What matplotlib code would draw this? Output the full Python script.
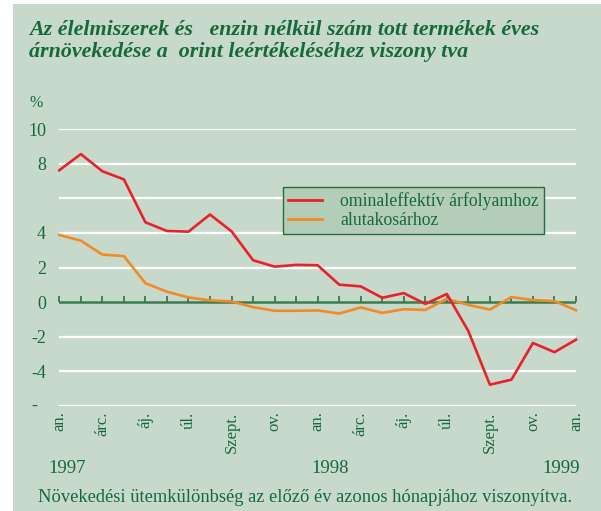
import matplotlib
matplotlib.use("Agg")
import matplotlib.pyplot as plt
from matplotlib.lines import Line2D
from matplotlib.markers import TICKUP

# ---- data ----
months = list(range(25))  # Jan 1997 .. Jan 1999
nominal_effective = [7.62, 8.55, 7.56, 7.09, 4.61, 4.11, 4.07, 5.06, 4.09, 2.42, 2.05, 2.15,
                     2.13, 1.01, 0.91, 0.25, 0.52, -0.10, 0.47, -1.67, -4.77, -4.48, -2.36, -2.89, -2.17]
currency_basket = [3.88, 3.55, 2.75, 2.66, 1.09, 0.60, 0.27, 0.10, 0.04, -0.29, -0.50, -0.50,
                   -0.48, -0.66, -0.31, -0.62, -0.41, -0.45, 0.19, -0.16, -0.43, 0.29, 0.12, 0.06, -0.47]
month_labels = ["an.", "árc.", "áj.", "úl.", "Szept.", "ov.", "an.", "árc.", "áj.", "úl.", "Szept.", "ov.", "an."]
month_label_pos = list(range(0, 25, 2))
year_labels = ["1997", "1998", "1999"]
year_pos = [0.35, 12.6, 23.3]
grid_values = [10, 8, 6, 4, 2, -2, -4, -6]
ytick_values = [10, 8, 4, 2, 0, -2, -4]
ytick_labels = ["10", "8", "4", "2", "0", "-2", "-4"]
series_names = ["ominaleffektív árfolyamhoz", "alutakosárhoz"]
title = "Az élelmiszerek és   enzin nélkül szám tott termékek éves\nárnövekedése a  orint leértékeléséhez viszony tva"
footer = "Növekedési ütemkülönbség az előző év azonos hónapjához viszonyítva."

# ---- style ----
BG = "#c7d9ca"
GREEN = "#17693c"
RED = "#e8222b"
ORANGE = "#f28a26"
SERIF = ["Liberation Serif", "DejaVu Serif"]
plt.rcParams["font.family"] = SERIF

W, H = 601, 511
fig = plt.figure(figsize=(W / 100, H / 100), dpi=100)
fig.patch.set_facecolor("white")
# green panel (white strip on the left)
fig.patches.append(plt.Rectangle((13 / W, 0), 1 - 13 / W, 1 - 4 / H, transform=fig.transFigure,
                                 facecolor=BG, edgecolor="none", zorder=-10))

left = 59.3 / W
right = 576 / W
top = 1 - 129 / H
bottom = 1 - 406 / H
ax = fig.add_axes([left, bottom, right - left, top - bottom])
ax.set_facecolor("none")
ax.set_xlim(0, 24)
ax.set_ylim(-6, 10)
for s in ax.spines.values():
    s.set_visible(False)

for g in grid_values:
    ax.axhline(g, color="white", lw=1.6, zorder=1)

# zero line with upward ticks
ax.axhline(0, color="#3a7d52", lw=1.8, zorder=2)
ax.plot(months, [0] * len(months), linestyle="none", marker=TICKUP, markersize=4,
        markeredgewidth=1.2, color="#2f7048", zorder=2, clip_on=False)

ax.plot(months, nominal_effective, color=RED, lw=1.9, zorder=4, clip_on=False)
ax.plot(months, currency_basket, color=ORANGE, lw=1.9, zorder=3, clip_on=False)

ax.set_yticks(ytick_values)
ax.set_yticklabels(ytick_labels)
ax.tick_params(axis="y", length=0, pad=9.5, labelsize=13, labelcolor=GREEN)
ax.text(-22 / (576 - 59.3), -6, "-", transform=ax.get_yaxis_transform(), color=GREEN,
        fontsize=13, ha="right", va="center")

ax.set_xticks(month_label_pos)
ax.set_xticklabels(month_labels, rotation=90)
ax.tick_params(axis="x", length=0, pad=4, labelsize=12, labelcolor=GREEN)

for yl, xp in zip(year_labels, year_pos):
    ax.text(xp, -9.6, yl, ha="center", va="center", fontsize=13.5, color=GREEN, clip_on=False)

handles = [Line2D([], [], color=RED, lw=2.0), Line2D([], [], color=ORANGE, lw=2.0)]
leg = ax.legend(handles, series_names, loc="upper left",
                bbox_to_anchor=((283 - 59.3) / (576 - 59.3), (406 - 187) / (406 - 129)),
                frameon=True, fancybox=False, facecolor="#b3cdb9", edgecolor="#2a6a40",
                fontsize=12.8, labelcolor=GREEN, handlelength=1.9, handletextpad=1.0,
                borderpad=0.3, labelspacing=0.1, borderaxespad=0)
leg.get_frame().set_linewidth(1.0)
leg.get_frame().set_alpha(1)
leg.set_zorder(6)

fig.text(29 / W, 1 - 41 / H, title, fontsize=15.8, fontweight="bold", fontstyle="italic",
         color=GREEN, ha="left", va="center", linespacing=1.1)
fig.text(36 / W, 1 - 103 / H, "%", fontsize=11.5, color=GREEN, ha="center", va="center")
fig.text(38 / W, 1 - 497 / H, footer, fontsize=13.3, color=GREEN, ha="left", va="center")

fig.savefig("out.png", dpi=100, facecolor=fig.get_facecolor())
